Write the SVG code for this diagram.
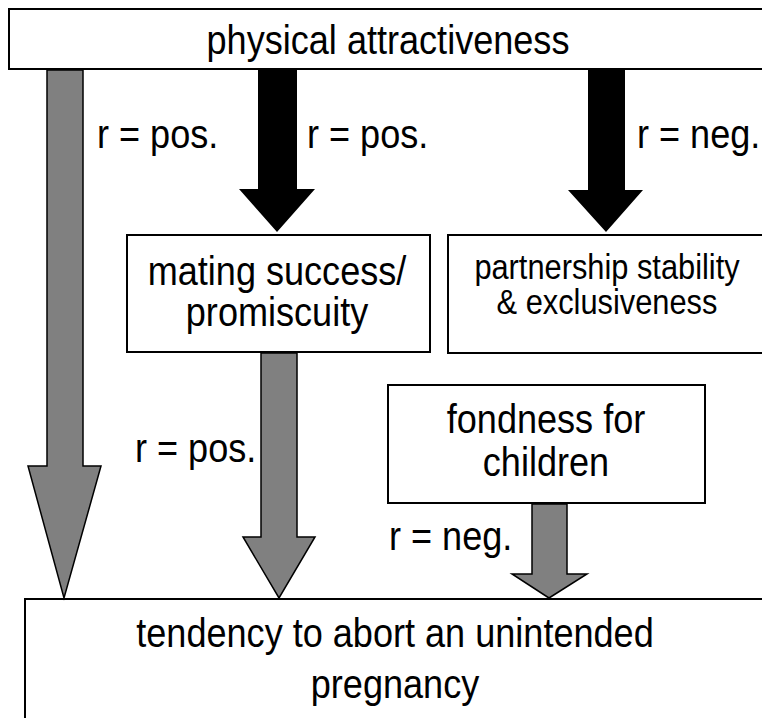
<svg xmlns="http://www.w3.org/2000/svg" width="762" height="718" viewBox="0 0 762 718">
<style>
  .box { fill: #ffffff; stroke: #000000; stroke-width: 2; }
  .t { font-family: "Liberation Sans", Arial, sans-serif; font-size: 41px; fill: #000000; }
  .c { text-anchor: middle; }
  .small { font-size: 35px; }
  .gray { fill: #808080; stroke: #000000; stroke-width: 1.5; stroke-linejoin: miter; }
  .black { fill: #000000; stroke: none; }
</style>
<rect width="762" height="718" fill="#ffffff"/>
<g id="node-physical">
  <rect class="box" x="9" y="9" width="770" height="60"/>
  <text class="t c" transform="translate(388,54) scale(0.88,1)">physical attractiveness</text>
</g>
<g id="node-mating">
  <rect class="box" x="127" y="235" width="303" height="117"/>
  <text class="t c" transform="translate(277,285) scale(0.88,1)">mating success/</text>
  <text class="t c" transform="translate(277,326) scale(0.88,1)">promiscuity</text>
</g>
<g id="node-partnership">
  <rect class="box" x="448" y="235" width="330" height="118"/>
  <text class="t small c" transform="translate(607,279) scale(0.88,1)">partnership stability</text>
  <text class="t small c" transform="translate(607,314) scale(0.88,1)">&amp; exclusiveness</text>
</g>
<g id="node-fondness">
  <rect class="box" x="388" y="385" width="317" height="118"/>
  <text class="t c" transform="translate(546,433) scale(0.88,1)">fondness for</text>
  <text class="t c" transform="translate(546,476) scale(0.88,1)">children</text>
</g>
<g id="node-tendency">
  <rect class="box" x="25" y="599" width="760" height="130"/>
  <text class="t c" transform="translate(395,647) scale(0.88,1)">tendency to abort an unintended</text>
  <text class="t c" transform="translate(395,698) scale(0.88,1)">pregnancy</text>
</g>
<g id="connectors">
  <polygon class="gray" points="47,70 83,70 83,466 101,466 64,598 28,466 47,466"/>
  <polygon class="black" points="258,70 297,70 297,189 315,189 277,232 239,189 258,189"/>
  <polygon class="black" points="588,70 625,70 625,190 643,190 606,232 568,190 588,190"/>
  <polygon class="gray" points="261,353 297,353 297,537 315,537 279,598 243,537 261,537"/>
  <polygon class="gray" points="532,504 567,504 567,574 587,574 549,598 512,574 532,574"/>
  <text class="t" transform="translate(97,148) scale(0.88,1)">r = pos.</text>
  <text class="t" transform="translate(307,148) scale(0.88,1)">r = pos.</text>
  <text class="t" transform="translate(637,148) scale(0.88,1)">r = neg.</text>
  <text class="t" transform="translate(135,462) scale(0.88,1)">r = pos.</text>
  <text class="t" transform="translate(389,550) scale(0.88,1)">r = neg.</text>
</g>
</svg>
